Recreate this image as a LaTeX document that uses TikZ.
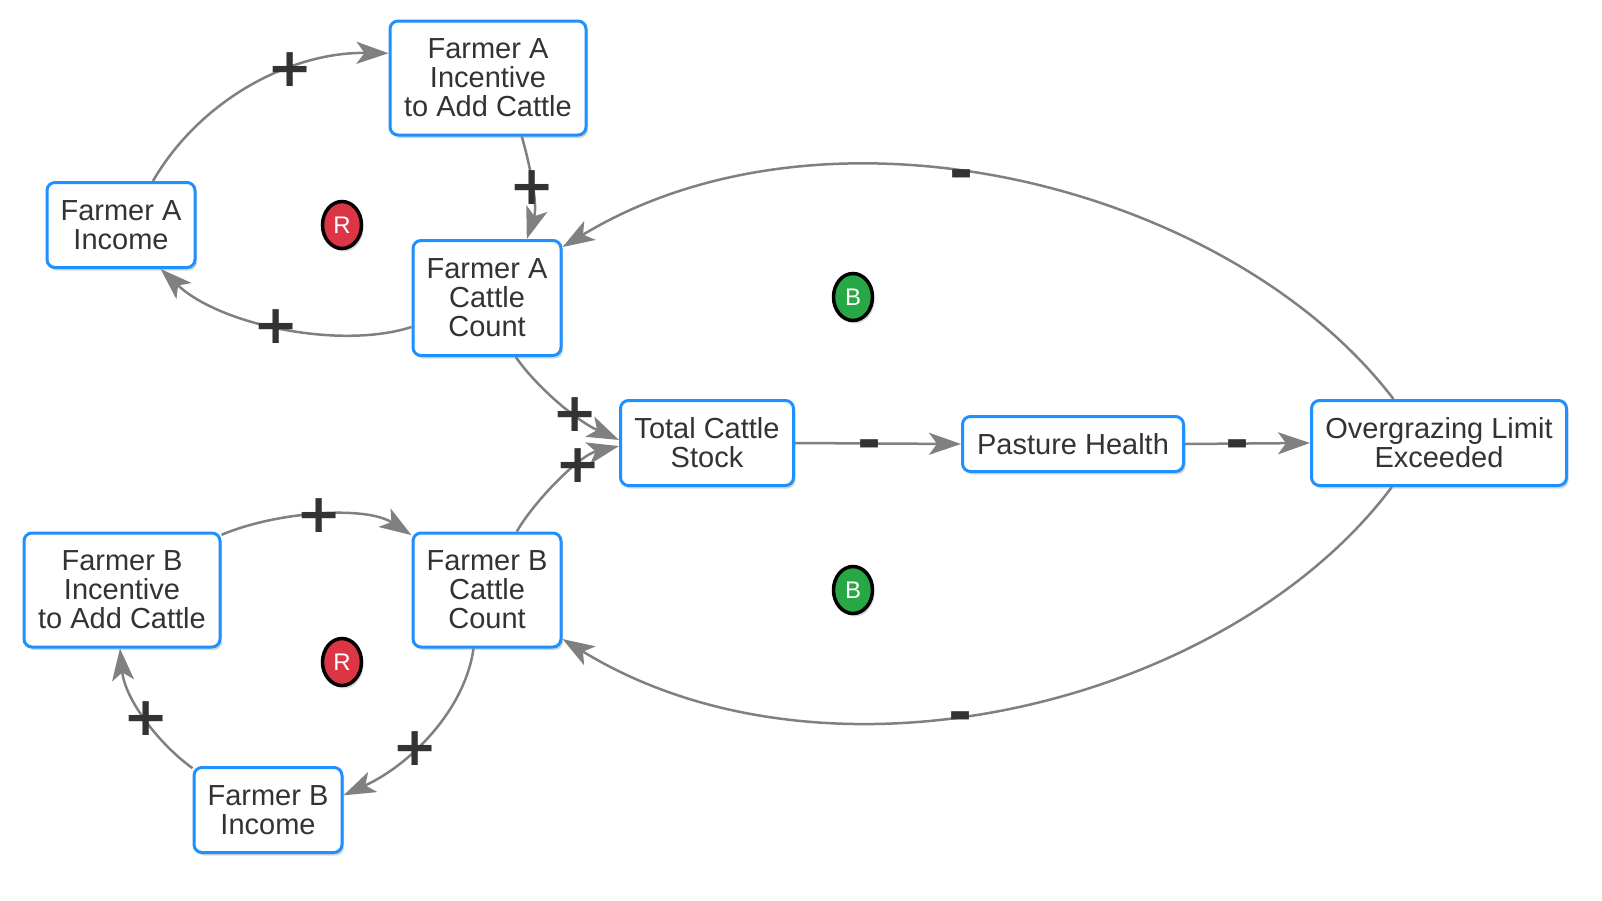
\documentclass[tikz,border=0pt]{standalone}
\usepackage{fontspec}
\setmainfont{Liberation Sans}
\newfontfamily\signfont{DejaVu Sans}
\usetikzlibrary{arrows.meta,shadows,shapes.geometric}
\definecolor{nodeblue}{HTML}{1E90FF}
\definecolor{txt}{HTML}{333333}
\definecolor{arr}{HTML}{808080}
\definecolor{rred}{HTML}{DC3545}
\definecolor{bgreen}{HTML}{28A745}
\begin{document}
\begin{tikzpicture}[x=1pt,y=-1pt,
  var/.style={draw=nodeblue, line width=3pt, fill=white, rounded corners=8pt,
    align=center, text=txt, font=\fontsize{29}{29}\selectfont, inner sep=0pt,
    drop shadow={shadow xshift=2pt, shadow yshift=-3pt, opacity=0.25, fill=black!60}},
  link/.style={draw=arr, line width=2.5pt, -{Stealth[length=32pt,width=22pt,inset=8pt]}},
  pm/.style={font=\signfont\bfseries\fontsize{54}{54}\selectfont, text=txt, inner sep=0pt},
  mn/.style={font=\signfont\bfseries\fontsize{58}{58}\selectfont, text=txt, inner sep=0pt, yshift=-7pt},
  loopmark/.style={ellipse, draw=black, line width=3.5pt, text=white,
    minimum width=39pt, minimum height=47pt, inner sep=0pt, font=\fontsize{24}{24}\selectfont,
    drop shadow={shadow xshift=2pt, shadow yshift=-3pt, opacity=0.25, fill=black!60}},
]
\useasboundingbox (0,0) rectangle (1602,900);

% variables
\node[var, minimum width=196pt, minimum height=114pt] (incA) at (488,78) {Farmer A\\Incentive\\to Add Cattle};
\node[var, minimum width=148pt, minimum height=85pt] (incomeA) at (121,225) {Farmer A\\Income};
\node[var, minimum width=148pt, minimum height=115pt] (cattleA) at (487,298) {Farmer A\\Cattle\\Count};
\node[var, minimum width=173pt, minimum height=85pt] (total) at (707,443) {Total Cattle\\Stock};
\node[var, minimum width=221pt, minimum height=55pt] (pasture) at (1073,444) {Pasture Health};
\node[var, minimum width=255pt, minimum height=85pt] (over) at (1439,443) {Overgrazing Limit\\Exceeded};
\node[var, minimum width=196pt, minimum height=114pt] (incB) at (122,590) {Farmer B\\Incentive\\to Add Cattle};
\node[var, minimum width=148pt, minimum height=114pt] (cattleB) at (487,590) {Farmer B\\Cattle\\Count};
\node[var, minimum width=148pt, minimum height=85pt] (incomeB) at (268,810) {Farmer B\\Income};

% loop markers
\node[loopmark, fill=rred] (r1) at (342,225) {R};
\node[loopmark, fill=bgreen] (b1) at (853,297) {B};
\node[loopmark, fill=bgreen] (b2) at (853,590) {B};
\node[loopmark, fill=rred] (r2) at (342,662) {R};

% links
\draw[link] (incomeA.54) .. controls (200,100) and (290,52) .. (incA.166.5)
  node[pm, pos=0.65] (s1) {+};
\draw[link] (incA.-60) .. controls (530,165) and (538,205) .. (cattleA.56.5)
  node[pm, pos=0.52] (s2) {+};
\draw[link] (cattleA.201) .. controls (340,350) and (220,325) .. (incomeA.-48.4)
  node[pm, pos=0.52] (s3) {+};
\draw[link] (cattleA.-64) .. controls (535,385) and (575,420) .. (total.178)
  node[pm, pos=0.65] (s4) {+};
\draw[link] (cattleB.63.8) .. controls (535,500) and (580,455) .. (total.182.6)
  node[pm, pos=0.66] (s5) {+};
\draw[link] (total.east) -- (pasture.west)
  node[mn, pos=0.45] (s6) {-};
\draw[link] (pasture.east) -- (over.west)
  node[mn, pos=0.42] (s7) {-};
\draw[link] (over.136.9) .. controls (1230,185) and (830,85) .. (cattleA.34.4)
  node[mn, pos=0.56] (s8) {-};
\draw[link] (over.223.1) .. controls (1230,703) and (830,803) .. (cattleB.-33)
  node[mn, pos=0.56] (s9) {-};
\draw[link] (incB.29) .. controls (275,512) and (365,505) .. (cattleB.144.8)
  node[pm, pos=0.5] (s10) {+};
\draw[link] (cattleB.-103) .. controls (465,710) and (410,765) .. (incomeB.11.3)
  node[pm, pos=0.6] (s11) {+};
\draw[link] (incomeB.151) .. controls (160,745) and (125,700) .. (incB.-92)
  node[pm, pos=0.5] (s12) {+};
\end{tikzpicture}
\end{document}
